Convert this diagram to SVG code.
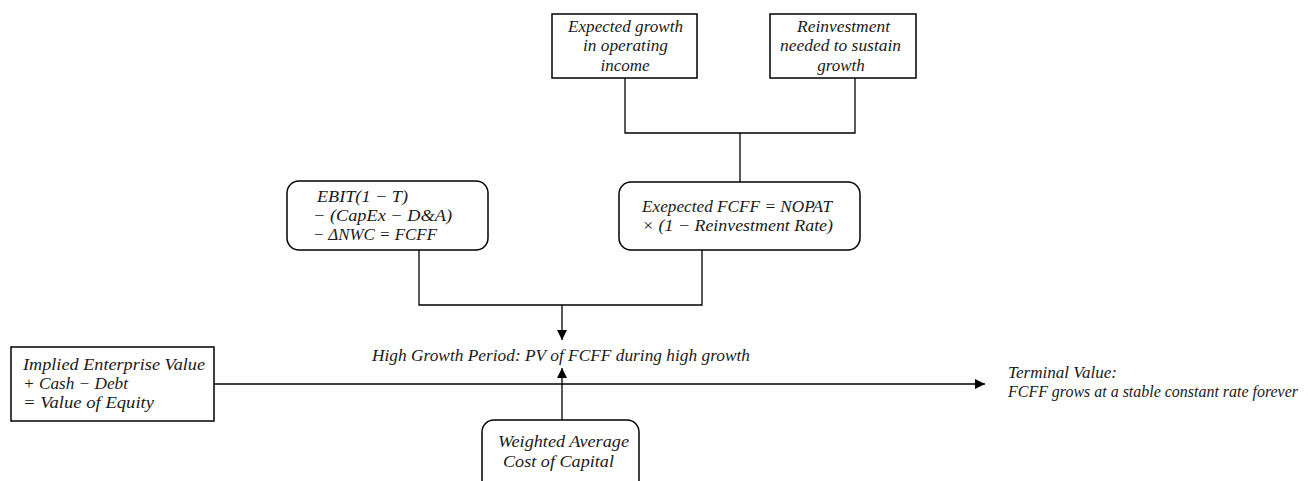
<svg xmlns="http://www.w3.org/2000/svg" width="1308" height="481" viewBox="0 0 1308 481">
<defs>
<marker id="arr" viewBox="0 0 10 10" refX="10" refY="5" markerWidth="10" markerHeight="10" markerUnits="userSpaceOnUse" orient="auto">
<path d="M0,0 L10,5 L0,10 z" fill="#000"/>
</marker>
<style>
.box{fill:#fff;stroke:#000;stroke-width:1.5}
.ln{fill:none;stroke:#000;stroke-width:1.3}
text{font-family:"Liberation Serif","DejaVu Serif",serif;font-style:italic;font-size:17px;fill:#1a1a1a}
.c{text-anchor:middle}
</style>
</defs>
<g id="connectors">
<polyline class="ln" points="625,78 625,133 855,133 855,78"/>
<line class="ln" x1="740" y1="133" x2="740" y2="182"/>
<polyline class="ln" points="419,250 419,305 702,305 702,250"/>
<line class="ln" x1="562" y1="305" x2="562" y2="340" marker-end="url(#arr)"/>
<line class="ln" x1="214" y1="384" x2="985" y2="384" marker-end="url(#arr)"/>
<line class="ln" x1="562" y1="420" x2="562" y2="368" marker-end="url(#arr)"/>
</g>
<g id="growth">
<rect class="box" x="552" y="14" width="145" height="64"/>
<text x="568" y="32" textLength="115" lengthAdjust="spacingAndGlyphs">Expected growth</text>
<text x="583" y="51" textLength="85" lengthAdjust="spacingAndGlyphs">in operating</text>
<text class="c" x="625" y="71">income</text>
</g>
<g id="reinvestment">
<rect class="box" x="770" y="14" width="146" height="64"/>
<text x="797" y="32" textLength="93" lengthAdjust="spacingAndGlyphs">Reinvestment</text>
<text x="780" y="51" textLength="121" lengthAdjust="spacingAndGlyphs">needed to sustain</text>
<text class="c" x="841" y="71">growth</text>
</g>
<g id="fcff-formula">
<rect class="box" x="287" y="181" width="201" height="69" rx="12"/>
<text x="317" y="202" textLength="91" lengthAdjust="spacingAndGlyphs">EBIT(1 − T)</text>
<text x="313" y="221" textLength="139" lengthAdjust="spacingAndGlyphs">− (CapEx − D&amp;A)</text>
<text x="313" y="240" textLength="124" lengthAdjust="spacingAndGlyphs">− ΔNWC = FCFF</text>
</g>
<g id="expected-fcff">
<rect class="box" x="619" y="182" width="241" height="68" rx="12"/>
<text x="642" y="212" textLength="190" lengthAdjust="spacingAndGlyphs">Exepected FCFF = NOPAT</text>
<text x="642" y="231" textLength="191" lengthAdjust="spacingAndGlyphs">× (1 − Reinvestment Rate)</text>
</g>
<g id="high-growth">
<text x="372" y="361" textLength="378" lengthAdjust="spacingAndGlyphs">High Growth Period: PV  of  FCFF  during high growth</text>
</g>
<g id="equity">
<rect class="box" x="11" y="347" width="203" height="74"/>
<text x="23" y="370" textLength="182" lengthAdjust="spacingAndGlyphs">Implied Enterprise Value</text>
<text x="23" y="389" textLength="105" lengthAdjust="spacingAndGlyphs">+ Cash − Debt</text>
<text x="23" y="408" textLength="131" lengthAdjust="spacingAndGlyphs">= Value of  Equity</text>
</g>
<g id="wacc">
<rect class="box" x="482" y="420" width="157" height="80" rx="12"/>
<text x="498" y="447" textLength="131" lengthAdjust="spacingAndGlyphs">Weighted Average</text>
<text x="503" y="467" textLength="111" lengthAdjust="spacingAndGlyphs">Cost of  Capital</text>
</g>
<g id="terminal">
<text x="1008" y="378" textLength="109" lengthAdjust="spacingAndGlyphs">Terminal Value:</text>
<text x="1008" y="397" style="font-size:16px" textLength="290" lengthAdjust="spacingAndGlyphs">FCFF grows at a stable constant rate forever</text>
</g>
</svg>
